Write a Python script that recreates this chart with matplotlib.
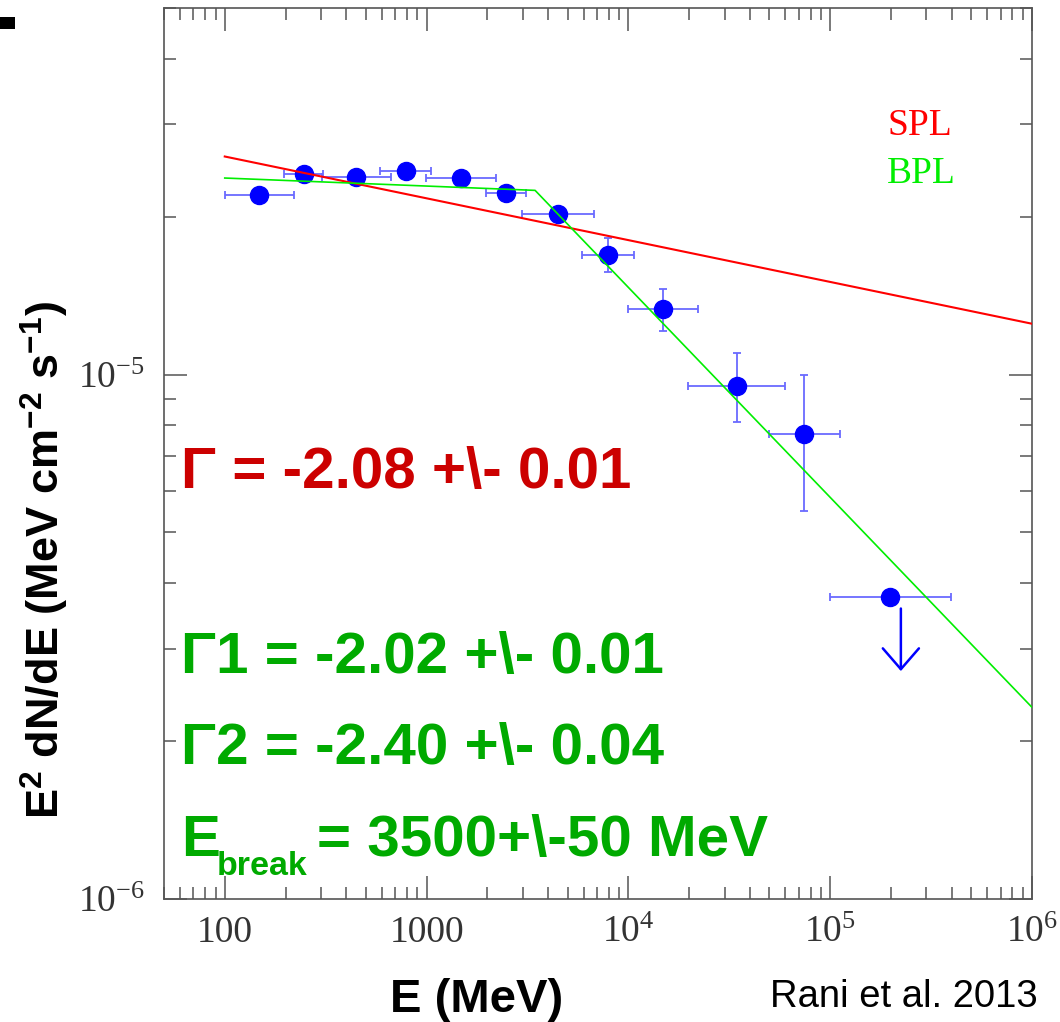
import numpy as np
import matplotlib
matplotlib.use("Agg")
import matplotlib.pyplot as plt
from matplotlib.patches import Rectangle
from matplotlib.ticker import NullFormatter, LogLocator

plt.rcParams['mathtext.fontset'] = 'custom'
plt.rcParams['mathtext.rm'] = 'Liberation Serif'
plt.rcParams['mathtext.bf'] = 'Liberation Sans:bold'
plt.rcParams['mathtext.default'] = 'bf'

# data points (E in MeV, E^2 dN/dE)
energy = [147, 247, 445, 788, 1478, 2472, 4459, 7895, 14800, 34600, 74100]
flux = [2.20e-5, 2.41e-5, 2.38e-5, 2.44e-5, 2.37e-5, 2.22e-5, 2.02e-5,
        1.69e-5, 1.336e-5, 9.50e-6, 7.72e-6]
e_low = [100, 196, 304, 588, 998, 1967, 2968, 5866, 9930, 19700, 49500]
e_high = [220, 306, 668, 1056, 2203, 3106, 6730, 10620, 22250, 60000, 111900]
flux_low = [2.20e-5, 2.41e-5, 2.38e-5, 2.44e-5, 2.37e-5, 2.22e-5, 2.02e-5,
            1.57e-5, 1.209e-5, 8.11e-6, 5.49e-6]
flux_high = [2.20e-5, 2.41e-5, 2.38e-5, 2.44e-5, 2.37e-5, 2.22e-5, 2.02e-5,
             1.82e-5, 1.458e-5, 1.10e-5, 1.0e-5]

# upper limit
ul_energy = 197400
ul_flux = 3.77e-6
ul_e_low = 99500
ul_e_high = 396000
ul_arrow_E = 224000
ul_arrow_top = 3.58e-6
ul_arrow_tip = 2.72e-6

# model lines
spl_E = [100, 1e6]
spl_flux = [2.605e-5, 1.25e-5]
bpl_E = [100, 3450, 1e6]
bpl_flux = [2.37e-5, 2.245e-5, 2.32e-6]

xticks = [100, 1000, 1e4, 1e5, 1e6]
xticklabels = ['100', '1000', r'$\mathrm{10^{4}}$', r'$\mathrm{10^{5}}$', r'$\mathrm{10^{6}}$']
yticks = [1e-6, 1e-5]
yticklabels = [r'$\mathrm{10^{-6}}$', r'$\mathrm{10^{-5}}$']

W, H = 1060, 1022
fig = plt.figure(figsize=(W / 100, H / 100), dpi=100)
ax = fig.add_axes([164 / W, 1 - 899 / H, (1032 - 164) / W, (899 - 8) / H])
ax.set_xscale('log')
ax.set_yscale('log')
ax.set_xlim(50, 1e6)
ax.set_ylim(1e-6, 5e-5)

energy = np.array(energy)
flux = np.array(flux)
xerr = [energy - np.array(e_low), np.array(e_high) - energy]
yerr = [flux - np.array(flux_low), np.array(flux_high) - flux]
ax.errorbar(energy, flux, xerr=xerr, yerr=yerr, fmt='none', ecolor='#6a6aff',
            elinewidth=1.3, capsize=2.8, capthick=1.3, zorder=2)
ax.errorbar([ul_energy], [ul_flux], xerr=[[ul_energy - ul_e_low], [ul_e_high - ul_energy]],
            fmt='none', ecolor='#6a6aff', elinewidth=1.3, capsize=2.8, capthick=1.3, zorder=2)
ax.plot(energy, flux, 'o', color='#0000ff', markersize=13, zorder=3)
ax.plot([ul_energy], [ul_flux], 'o', color='#0000ff', markersize=13, zorder=3)
ax.annotate('', xy=(ul_arrow_E, ul_arrow_tip), xytext=(ul_arrow_E, ul_arrow_top),
            arrowprops=dict(arrowstyle='->, head_length=0.75, head_width=0.65',
                            color='#0000ff', lw=1.8, mutation_scale=20,
                            shrinkA=0, shrinkB=0), zorder=3)

ax.plot(spl_E, spl_flux, color='#ff0000', lw=1.5, zorder=4)
ax.plot(bpl_E, bpl_flux, color='#00ee00', lw=1.2, zorder=4)

# axes styling
for sp in ax.spines.values():
    sp.set_color('#555555')
    sp.set_linewidth(1.2)
ax.set_xticks(xticks, labels=xticklabels)
ax.set_yticks(yticks, labels=yticklabels)
ax.xaxis.set_minor_locator(LogLocator(base=10, subs=np.arange(2, 10)))
ax.yaxis.set_minor_locator(LogLocator(base=10, subs=np.arange(2, 10)))
ax.xaxis.set_minor_formatter(NullFormatter())
ax.yaxis.set_minor_formatter(NullFormatter())
ax.tick_params(which='both', direction='in', top=True, right=True, color='#555555',
               width=1.1, labelcolor='#333333')
ax.tick_params(which='major', length=16.5)
ax.tick_params(which='minor', length=8.5)
ax.tick_params(axis='x', which='major', pad=12)
ax.tick_params(axis='y', which='major', pad=14)
for lab in ax.get_xticklabels() + ax.get_yticklabels():
    lab.set_fontfamily('Liberation Serif')
    lab.set_fontsize(27)

# SPL / BPL labels
fig.text(887 / W, 1 - 135 / H, 'SPL', color='#ff0000', fontsize=27,
         family='Liberation Serif', va='baseline', ha='left')
fig.text(887 / W, 1 - 183 / H, 'BPL', color='#00ee00', fontsize=27,
         family='Liberation Serif', va='baseline', ha='left')

# fit results
bold = dict(family='Liberation Sans', weight='bold', va='baseline', ha='left')
fig.text(181 / W, 1 - 488 / H, 'Γ = -2.08 +\\- 0.01', color='#cc0000', fontsize=42, **bold)
fig.text(181 / W, 1 - 673 / H, 'Γ1 = -2.02 +\\- 0.01', color='#00aa00', fontsize=42, **bold)
fig.text(181 / W, 1 - 764 / H, 'Γ2 = -2.40 +\\- 0.04', color='#00aa00', fontsize=42, **bold)
fig.text(181 / W, 1 - 856 / H, 'E', color='#00aa00', fontsize=42, **bold)
fig.text(217 / W, 1 - 875 / H, 'break', color='#00aa00', fontsize=24.5, **bold)
fig.text(317 / W, 1 - 856 / H, '= 3500+\\-50 MeV', color='#00aa00', fontsize=42, **bold)

# axis labels
fig.text(477 / W, 1 - 1012 / H, 'E (MeV)', fontsize=34, family='Liberation Sans',
         weight='bold', ha='center', va='baseline')
fig.text(45 / W, 1 - 560 / H, r'E$^{2}$ dN/dE (MeV cm$^{-2}$ s$^{-1}$)', fontsize=32.5,
         family='Liberation Sans', weight='bold', rotation=90, ha='center', va='center')
fig.text(770 / W, 1 - 1007 / H, 'Rani et al. 2013', fontsize=27.5, family='Liberation Sans',
         ha='left', va='baseline')

# black bar at the top left corner
fig.patches.append(Rectangle((0, 1 - 29 / H), 15 / W, 12 / H, transform=fig.transFigure,
                             facecolor='black', edgecolor='none'))

fig.savefig('out.png', dpi=100)
